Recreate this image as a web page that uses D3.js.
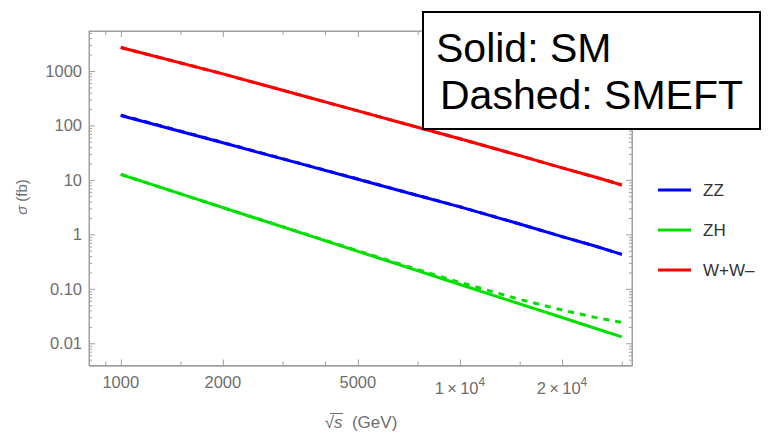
<!DOCTYPE html>
<html>
<head>
<meta charset="utf-8">
<script src="https://cdn.jsdelivr.net/npm/d3@7"></script>
<style>
  body { margin: 0; background: #fff; }
  svg { display: block; font-family: "Liberation Sans", Arial, Helvetica, sans-serif; }
</style>
</head>
<body>
<svg id="chart" width="773" height="438"></svg>
<script>
// ---- data ----
const energies = [1000, 2000, 3000, 5000, 7000, 10000, 15000, 20000, 25000, 30000];
const wwSM     = [2690, 883, 443, 185, 104, 56.8, 27.9, 16.6, 11.3, 8.07];
const wwSMEFT  = [2690, 883, 443, 185, 104, 56.8, 27.9, 16.6, 11.3, 8.07];
const zzSM     = [152, 48.0, 24.3, 10.3, 5.82, 3.20, 1.55, 0.91, 0.61, 0.43];
const zzSMEFT  = [155, 48.6, 24.5, 10.4, 5.85, 3.21, 1.55, 0.91, 0.61, 0.43];
const zhSM     = [12.6, 3.10, 1.37, 0.488, 0.247, 0.120, 0.053, 0.0297, 0.0189, 0.0131];
const zhSMEFT  = [12.6, 3.11, 1.38, 0.500, 0.258, 0.131, 0.064, 0.0408, 0.0299, 0.0241];

const seriesNames  = ["ZZ", "ZH", "W+W\u2013"];
const seriesColors = ["#0000ff", "#00e000", "#ff0000"];

const xMajorTicks  = [1000, 2000, 5000, 10000, 20000];
const xMajorLabels = [["1000"], ["2000"], ["5000"], ["1\u2009\u00d7\u200910", "4"], ["2\u2009\u00d7\u200910", "4"]];
const xMinorTicks  = [900, 1500, 3000, 4000, 7500, 15000, 30000];
const yMajorTicks  = [0.01, 0.1, 1, 10, 100, 1000];
const yMajorLabels = ["0.01", "0.10", "1", "10", "100", "1000"];

const boxLines = ["Solid: SM", "Dashed: SMEFT"];

// ---- layout ----
const svg = d3.select("#chart");
const L = 89, R = 632, T = 31, B = 365.5;
const x = d3.scaleLog().domain([806, 32150]).range([L, R]);
const y = d3.scaleLog().domain([0.00391, 5420]).range([B, T]);

svg.append("rect").attr("width", 773).attr("height", 438).attr("fill", "#fff");

// minor y ticks: 2..9 x each decade inside domain
const yMinorTicks = [];
for (let e = -3; e <= 3; e++) {
  for (let m = 2; m <= 9; m++) {
    const v = m * Math.pow(10, e);
    if (v > 0.00391 && v < 5420) yMinorTicks.push(v);
  }
}

const frameColor = "#a0a0a0";
function styleAxis(g) {
  g.selectAll("path").attr("stroke", frameColor).attr("stroke-width", 1);
  g.selectAll("line").attr("stroke", frameColor).attr("stroke-width", 1);
  g.selectAll("text").remove();
}

// bottom & top
svg.append("g").attr("transform", `translate(0,${B})`)
  .call(d3.axisBottom(x).tickValues(xMajorTicks).tickSizeInner(-6).tickSizeOuter(0).tickFormat(""))
  .call(styleAxis);
svg.append("g").attr("transform", `translate(0,${B})`)
  .call(d3.axisBottom(x).tickValues(xMinorTicks).tickSizeInner(-4).tickSizeOuter(0).tickFormat(""))
  .call(styleAxis);
svg.append("g").attr("transform", `translate(0,${T})`)
  .call(d3.axisTop(x).tickValues(xMajorTicks).tickSizeInner(-6).tickSizeOuter(0).tickFormat(""))
  .call(styleAxis);
svg.append("g").attr("transform", `translate(0,${T})`)
  .call(d3.axisTop(x).tickValues(xMinorTicks).tickSizeInner(-4).tickSizeOuter(0).tickFormat(""))
  .call(styleAxis);
// left & right
svg.append("g").attr("transform", `translate(${L},0)`)
  .call(d3.axisLeft(y).tickValues(yMajorTicks).tickSizeInner(-6).tickSizeOuter(0).tickFormat(""))
  .call(styleAxis);
svg.append("g").attr("transform", `translate(${L},0)`)
  .call(d3.axisLeft(y).tickValues(yMinorTicks).tickSizeInner(-3).tickSizeOuter(0).tickFormat(""))
  .call(styleAxis);
svg.append("g").attr("transform", `translate(${R},0)`)
  .call(d3.axisRight(y).tickValues(yMajorTicks).tickSizeInner(-6).tickSizeOuter(0).tickFormat(""))
  .call(styleAxis);
svg.append("g").attr("transform", `translate(${R},0)`)
  .call(d3.axisRight(y).tickValues(yMinorTicks).tickSizeInner(-3).tickSizeOuter(0).tickFormat(""))
  .call(styleAxis);

// frame
svg.append("rect").attr("x", L).attr("y", T).attr("width", R - L).attr("height", B - T)
  .attr("fill", "none").attr("stroke", frameColor).attr("stroke-width", 1);

// tick labels
const labelColor = "#6e6e6e";
svg.append("g").selectAll("text").data(yMajorTicks).join("text")
  .attr("x", L - 7).attr("y", d => y(d)).attr("dy", "0.36em")
  .attr("text-anchor", "end").attr("font-size", 16.5).attr("fill", labelColor)
  .text((d, i) => yMajorLabels[i]);

const xl = svg.append("g").selectAll("text").data(xMajorTicks).join("text")
  .attr("x", d => x(d)).attr("y", (d, i) => xMajorLabels[i].length > 1 ? 394 : 388)
  .attr("text-anchor", "middle").attr("font-size", 16.5).attr("fill", labelColor);
xl.each(function(d, i) {
  const t = d3.select(this);
  const parts = xMajorLabels[i];
  t.append("tspan").text(parts[0]);
  if (parts.length > 1) {
    t.append("tspan").attr("dy", -8).attr("font-size", 12).text(parts[1]);
  }
});

// axis titles
const xt = svg.append("text").attr("x", 361).attr("y", 428).attr("text-anchor", "middle")
  .attr("font-size", 17).attr("fill", labelColor);
xt.append("tspan").text("\u221a");
xt.append("tspan").attr("font-style", "italic").text("s");
xt.append("tspan").text("\u00a0\u00a0(GeV)");
// radical bar over s
svg.append("line").attr("x1", 330).attr("x2", 343).attr("y1", 413.5).attr("y2", 413.5)
  .attr("stroke", labelColor).attr("stroke-width", 1);

const yt = svg.append("text").attr("transform", "translate(27,197) rotate(-90)")
  .attr("text-anchor", "middle").attr("font-size", 15).attr("fill", labelColor);
yt.append("tspan").attr("font-style", "italic").text("\u03c3");
yt.append("tspan").text(" (fb)");

// series lines
const line = d3.line().x(d => x(d[0])).y(d => y(d[1]));
const series = [
  { sm: zzSM, eft: zzSMEFT, color: seriesColors[0] },
  { sm: zhSM, eft: zhSMEFT, color: seriesColors[1] },
  { sm: wwSM, eft: wwSMEFT, color: seriesColors[2] }
];
const plot = svg.append("g");
series.forEach(s => {
  plot.append("path").datum(energies.map((e, i) => [e, s.eft[i]]))
    .attr("d", line).attr("fill", "none").attr("stroke", s.color)
    .attr("stroke-width", 3).attr("stroke-dasharray", "6,6");
  plot.append("path").datum(energies.map((e, i) => [e, s.sm[i]]))
    .attr("d", line).attr("fill", "none").attr("stroke", s.color)
    .attr("stroke-width", 3);
});

// legend
const lg = svg.append("g");
seriesNames.forEach((n, i) => {
  const ly = 190 + i * 40;
  lg.append("line").attr("x1", 658).attr("x2", 691).attr("y1", ly).attr("y2", ly)
    .attr("stroke", seriesColors[i]).attr("stroke-width", 3);
  lg.append("text").attr("x", 703).attr("y", ly).attr("dy", "0.36em")
    .attr("font-size", 17).attr("fill", "#333").text(n);
});

// annotation box
svg.append("rect").attr("x", 423).attr("y", 12).attr("width", 337).attr("height", 117)
  .attr("fill", "#fff").attr("stroke", "#000").attr("stroke-width", 2);
svg.append("text").attr("x", 436).attr("y", 61.5).attr("font-size", 41).attr("fill", "#000").text(boxLines[0]);
svg.append("text").attr("x", 440).attr("y", 108.5).attr("font-size", 41).attr("fill", "#000").text(boxLines[1]);
</script>
</body>
</html>
